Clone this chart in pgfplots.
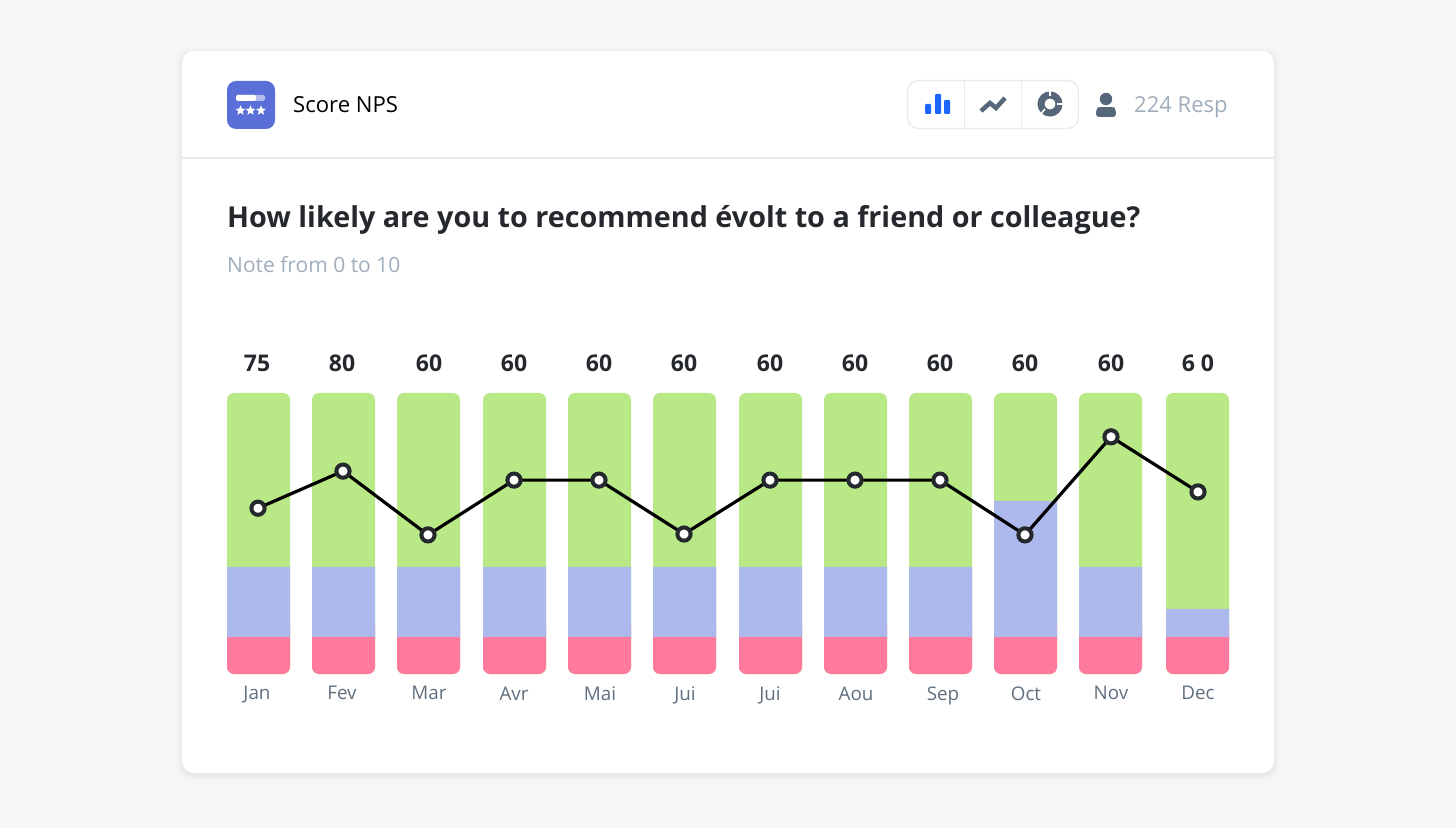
\documentclass[border=0pt]{standalone}
\usepackage{fontspec}
\setmainfont{Open Sans}
\usepackage{pgfplots}
\usepackage{pgfplotstable}
\pgfplotsset{compat=1.18}
\usetikzlibrary{shapes.geometric}

\definecolor{pagebg}{HTML}{F5F6F8}
\definecolor{rule}{HTML}{E9EBEE}
\definecolor{ink}{HTML}{25282D}
\definecolor{soft}{HTML}{A0ADBA}
\definecolor{slate}{HTML}{56677A}
\definecolor{month}{HTML}{5F6F7F}
\definecolor{tile}{HTML}{5A6FD8}
\definecolor{active}{HTML}{1A66FF}
\definecolor{promo}{HTML}{B8E986}
\definecolor{passive}{HTML}{ADB8EC}
\definecolor{detract}{HTML}{FF7A9E}

% x = bar centre in px, values in percent of the bar height
\pgfplotstableread{
x      red   cap  blue  green
258.5  13.2  20   24.9  61.9
343.5  13.2  20   24.9  61.9
428.5  13.2  20   24.9  61.9
514.5  13.2  20   24.9  61.9
599.5  13.2  20   24.9  61.9
684.5  13.2  20   24.9  61.9
770.5  13.2  20   24.9  61.9
855.5  13.2  20   24.9  61.9
940.5  13.2  20   24.9  61.9
1025.5 13.2  20   48.4  38.4
1110.5 13.2  20   24.9  61.9
1197.5 13.2  20   10.0  76.8
}\bars

\pgfplotsset{
  chart/.style={
    scale only axis, width=1002pt, height=281pt,
    at={(227pt,154pt)}, anchor=south west,
    xmin=227, xmax=1229, ymin=0, ymax=100, clip=false,
  },
}

\begin{document}
\begin{tikzpicture}
\path[use as bounding box, fill=pagebg] (0,0) rectangle (1456pt,828pt);

\begin{scope}[x=1pt, y=-1pt, shift={(0pt,828pt)}]
  % card
  \foreach \g/\o in {6/0.008,4/0.012,2.5/0.016,1/0.02}
    \fill[black, opacity=\o, rounded corners=13pt] (182-\g,51-\g+2) rectangle (1274+\g,773+\g+2);
  \fill[white, rounded corners=12pt] (182,51) rectangle (1274,773);
  \draw[rule, line width=1.5pt] (182,158) -- (1274,158);

  % app tile
  \fill[tile, rounded corners=9pt] (227,81) rectangle (275,129);
  \fill[white, opacity=0.55, rounded corners=1.5pt] (236,95) rectangle (265,101);
  \fill[white, rounded corners=1.5pt] (236,95) rectangle (256,101);
  \foreach \sx in {240.5,250.5,261}
    \node[star, star points=5, star point ratio=2.3, fill=white, inner sep=0pt, minimum size=10.5pt] at (\sx,110.5) {};
  \node[anchor=base west, inner sep=0pt, text=black] at (293,112.5) {\fontsize{22.1}{26}\selectfont Score NPS};

  % toolbar
  \draw[rule, line width=1.3pt, rounded corners=11pt] (907.5,80.5) rectangle (1078.5,128.5);
  \draw[rule, line width=1.3pt] (964.5,81) -- (964.5,128) (1021.5,81) -- (1021.5,128);
  \fill[active, rounded corners=1pt] (925,104) rectangle (931,114);
  \fill[active, rounded corners=1pt] (935,94) rectangle (941,114);
  \fill[active, rounded corners=1pt] (944,100) rectangle (950,114);
  \draw[slate, line width=4.5pt] (981,111) -- (990,103) -- (996,108) -- (1005,98);
  \draw[slate, line width=7pt] (1050,104) circle (9);
  \draw[white, line width=1.6pt] (1050,96) -- (1050,90) (1057,104) -- (1064,104) (1045,109) -- (1040,115);
  \fill[slate] (1106,99) circle (6.2);
  \fill[slate, rounded corners=3pt] (1096,117) -- (1096,110) .. controls (1098,107) and (1114,107) .. (1116,110) -- (1116,117) -- cycle;
  \node[anchor=base west, inner sep=0pt, text=soft] at (1134,113) {\fontsize{22}{26}\selectfont 224 Resp};

  % question
  \node[anchor=base west, inner sep=0pt, text=ink] at (227,227.5) {\fontsize{28.75}{34}\selectfont\bfseries How likely are you to recommend évolt to a friend or colleague?};
  \node[anchor=base west, inner sep=0pt, text=soft] at (227,273) {\fontsize{21}{25}\selectfont Note from 0 to 10};
\end{scope}

% full height rounded bars, red cap goes under the blue part
\begin{axis}[chart, hide axis]
\addplot[ybar, bar width=63pt, bar shift=0pt, fill=promo, draw=none, rounded corners=7pt] coordinates {
(258.5,100) (343.5,100) (428.5,100) (514.5,100) (599.5,100) (684.5,100)
(770.5,100) (855.5,100) (940.5,100) (1025.5,100) (1110.5,100) (1197.5,100)};
\addplot[ybar, bar width=63pt, bar shift=0pt, fill=detract, draw=none, rounded corners=7pt] table[x=x, y=cap] {\bars};
\end{axis}

% blue middle part, on an empty base
\begin{axis}[chart, hide axis, ybar stacked, bar width=63pt]
\addplot[draw=none, fill=none] table[x=x, y=red] {\bars};
\addplot[draw=none, fill=passive] table[x=x, y=blue] {\bars};
\end{axis}

% line, month labels and totals
\begin{axis}[chart,
  axis line style={draw=none}, major tick length=0pt,
  axis x line=bottom, axis y line=none,
  xtick={257,342,429,514,600,685,770,856,943,1026,1111,1198},
  xticklabels={Jan,Fev,Mar,Avr,Mai,Jui,Jui,Aou,Sep,Oct,Nov,Dec},
  xticklabel style={text=month, font=\fontsize{18.8}{22}\selectfont, yshift=-9pt},
]
\addplot[black, line width=3.2pt, mark=*, mark size=6.6pt,
  mark options={fill=white, draw=ink, line width=4pt}] coordinates {
(258,59) (343,72.2) (428,49.5) (514,69) (599,69) (684,49.8)
(770,69) (855,69) (940,69) (1025,49.5) (1111,84.4) (1198,64.8)};
\addplot[draw=none, mark=none, nodes near coords, point meta=explicit symbolic,
  every node near coord/.style={anchor=base, text=ink, inner sep=0pt, yshift=21.5pt,
    font=\fontsize{23}{27}\selectfont\bfseries}] coordinates {
(257,100)[75] (342,100)[80] (429,100)[60] (514,100)[60] (599,100)[60] (684,100)[60]
(770,100)[60] (855,100)[60] (940,100)[60] (1025,100)[60] (1111,100)[60] (1198,100)[6 0]};
\end{axis}
\end{tikzpicture}
\end{document}
